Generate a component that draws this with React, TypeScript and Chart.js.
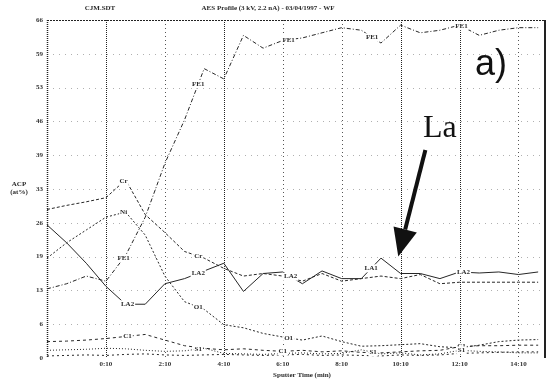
import { useEffect, useRef } from "react";
import { Chart, registerables } from "chart.js";

Chart.register(...registerables);

// Sputter cycles (three cycles per labelled time step)
const cycles = [0, 1, 2, 3, 4, 5, 6, 7, 8, 9, 10, 11, 12, 13, 14, 15, 16, 17, 18, 19, 20, 21, 22, 23, 24, 25];

// Tick labels
const timeTicks = ["", "0:10", "2:10", "4:10", "6:10", "8:10", "10:10", "12:10", "14:10"];
const acpTicks = ["0", "6", "13", "19", "26", "33", "39", "46", "53", "59", "66"];

// Atomic concentration profiles (at%)
const fe = [13.5, 14.5, 16, 15, 20, 27.5, 38, 46.5, 56.5, 54.5, 63, 60.5, 62, 62.5, 63.5, 64.5, 64, 61.5, 65, 63.5, 64, 65, 63, 64, 64.5, 64.5];
const cr = [29, 29.8, 30.5, 31.3, 34.8, 28, 24.5, 20.8, 19.5, 17.5, 16, 16.5, 16, 15, 16.5, 15, 15.5, 16, 15.5, 16.3, 14.5, 14.8, 14.8, 14.8, 14.8, 14.8];
const ni = [19.5, 22.5, 25, 27.5, 28.5, 24, 16, 11, 9.5, 6.5, 5.9, 4.8, 4.1, 3.5, 4.3, 3.2, 2.3, 2.4, 2.6, 2.8, 2.2, 2.0, 2.5, 3.2, 3.5, 3.6];
const la = [26, 22.5, 18.5, 14, 10.5, 10.5, 14.5, 15.5, 17, 18.5, 13, 16.5, 16.8, 14.5, 17, 15.5, 15.5, 19.5, 16.5, 16.5, 15.5, 16.8, 16.6, 16.8, 16.3, 16.8];
const carbon = [3.2, 3.3, 3.5, 3.8, 4.2, 4.6, 3.5, 2.4, 1.9, 1.6, 1.8, 1.5, 1.3, 1.5, 1.2, 1.4, 1.1, 1.0, 1.2, 1.4, 1.5, 2.2, 2.4, 2.4, 2.5, 2.5];
const sulfur = [1.5, 1.6, 1.7, 1.9, 1.8, 1.5, 1.3, 1.4, 1.9, 0.9, 0.8, 0.7, 0.9, 1.0, 0.8, 0.9, 1.6, 0.8, 1.0, 0.6, 0.8, 1.5, 1.3, 1.2, 1.0, 1.0];
const nitrogen = [0.4, 0.5, 0.6, 0.5, 0.7, 0.8, 0.6, 0.5, 0.6, 0.7, 0.6, 0.5, 0.6, 0.7, 0.5, 0.6, 0.5, 0.4, 0.6, 0.5, 0.6, 0.9, 1.0, 1.1, 1.2, 1.2];

const SERIF = "'Liberation Serif', 'DejaVu Serif', serif";
const SANS = "'Liberation Sans', Arial, sans-serif";
const INK = "#262626";

const series = [
  { name: "Fe", values: fe, dash: [4, 2, 1, 2] },
  { name: "Cr", values: cr, dash: [3, 2] },
  { name: "Ni/O", values: ni, dash: [2, 2] },
  { name: "La", values: la, dash: [] as number[] },
  { name: "C", values: carbon, dash: [3, 3] },
  { name: "S", values: sulfur, dash: [1, 2] },
  { name: "N", values: nitrogen, dash: [2, 3] },
];

// In-plot curve tags: series index, cycle position, text
const curveTags: [number, number, string][] = [
  [0, 3.9, "FE1"], [0, 7.7, "FE1"], [0, 12.3, "FE1"], [0, 16.55, "FE1"], [0, 21.1, "FE1"],
  [1, 3.9, "Cr"], [1, 7.7, "Cr"],
  [2, 3.9, "Ni"], [2, 7.7, "O1"], [2, 12.3, "O1"],
  [3, 4.1, "LA2"], [3, 7.7, "LA2"], [3, 12.4, "LA2"], [3, 16.5, "LA1"], [3, 21.2, "LA2"],
  [4, 4.1, "C1"], [4, 12.0, "C1"], [4, 21.1, "C1"],
  [5, 7.7, "S1"], [5, 16.6, "S1"], [5, 21.1, "S1"],
];

function valueAt(vals: number[], x: number) {
  const i = Math.max(0, Math.min(vals.length - 2, Math.floor(x)));
  const f = x - i;
  return vals[i] * (1 - f) + vals[i + 1] * f;
}

const framePlugin = {
  id: "frame",
  beforeDatasetsDraw(chart: any) {
    const { ctx, chartArea: a, scales } = chart;
    const xs = scales.x, ys = scales.y;
    ctx.save();
    // horizontal grid
    ctx.strokeStyle = "#b0b0b0";
    ctx.lineWidth = 1;
    ctx.setLineDash([1, 5]);
    for (let i = 1; i < acpTicks.length - 1; i++) {
      const y = Math.round(ys.getPixelForValue(i * 6.6)) + 0.5;
      ctx.beginPath(); ctx.moveTo(a.left, y); ctx.lineTo(a.right, y); ctx.stroke();
    }
    // vertical grid
    for (let i = 1; i < timeTicks.length; i++) {
      const x = Math.round(xs.getPixelForValue(i * 3)) + 0.5;
      const strong = i === 1 || i === 3 || i === 6 || i === 7;
      ctx.strokeStyle = strong ? "#222" : "#555";
      ctx.setLineDash(strong ? [1, 1] : [1, 3]);
      ctx.beginPath(); ctx.moveTo(x, a.top); ctx.lineTo(x, a.bottom); ctx.stroke();
    }
    // frame
    ctx.strokeStyle = "#222";
    ctx.setLineDash([1, 1]);
    ctx.lineWidth = 1.5;
    ctx.beginPath(); ctx.moveTo(a.left + 0.5, a.top); ctx.lineTo(a.left + 0.5, a.bottom); ctx.stroke();
    ctx.lineWidth = 1;
    ctx.setLineDash([2, 1]);
    ctx.beginPath(); ctx.moveTo(a.left, a.top + 0.5); ctx.lineTo(a.right, a.top + 0.5); ctx.stroke();
    ctx.setLineDash([]);
    ctx.lineWidth = 2;
    ctx.beginPath(); ctx.moveTo(a.right - 1, a.top); ctx.lineTo(a.right - 1, a.bottom); ctx.stroke();
    ctx.restore();
  },
  afterDatasetsDraw(chart: any) {
    const { ctx, scales } = chart;
    const xs = scales.x, ys = scales.y;
    ctx.save();
    // curve tags
    ctx.font = `bold 7px ${SERIF}`;
    ctx.textAlign = "center";
    ctx.textBaseline = "middle";
    for (const [si, cx, text] of curveTags) {
      const px = xs.getPixelForValue(cx);
      const py = ys.getPixelForValue(valueAt(series[si].values, cx));
      const w = ctx.measureText(text).width;
      ctx.fillStyle = "#fff";
      ctx.fillRect(px - w / 2 - 1, py - 4, w + 2, 8);
      ctx.fillStyle = "#2a2a2a";
      ctx.fillText(text, px, py);
    }
    // headers
    ctx.fillStyle = "#2a2a2a";
    ctx.font = `bold 7px ${SERIF}`;
    ctx.fillText("CJM.SDT", 100, 8);
    ctx.fillText("AES Profile (3 kV, 2.2 nA) - 03/04/1997 - WF", 268, 8);
    // axis titles
    ctx.fillText("ACP", 19, 184);
    ctx.fillText("(at%)", 19, 192);
    ctx.fillText("Sputter Time (min)", 302, 375);
    // panel tag and element pointer
    ctx.fillStyle = "#111";
    ctx.font = `36px ${SANS}`;
    ctx.fillText("a)", xs.getPixelForValue(22.6), ys.getPixelForValue(57.2));
    ctx.font = `32px ${SERIF}`;
    ctx.fillText("La", xs.getPixelForValue(20.0), ys.getPixelForValue(44.8));
    const x0 = xs.getPixelForValue(19.26), y0 = ys.getPixelForValue(40.6);
    const x1 = xs.getPixelForValue(17.88), y1 = ys.getPixelForValue(19.8);
    const ang = Math.atan2(y1 - y0, x1 - x0);
    const headLen = 28, headW = 12;
    const bx = x1 - headLen * Math.cos(ang), by = y1 - headLen * Math.sin(ang);
    ctx.strokeStyle = "#111";
    ctx.lineWidth = 4;
    ctx.beginPath(); ctx.moveTo(x0, y0); ctx.lineTo(bx, by); ctx.stroke();
    ctx.beginPath();
    ctx.moveTo(x1, y1);
    ctx.lineTo(bx + headW * Math.sin(ang), by - headW * Math.cos(ang));
    ctx.lineTo(bx - headW * Math.sin(ang), by + headW * Math.cos(ang));
    ctx.closePath();
    ctx.fill();
    ctx.restore();
  },
};

export default function App() {
  const ref = useRef<HTMLCanvasElement | null>(null);
  useEffect(() => {
    if (!ref.current) return;
    const chart = new Chart(ref.current, {
      type: "line",
      data: {
        datasets: series.map((s) => ({
          label: s.name,
          data: cycles.map((c, i) => ({ x: c, y: s.values[i] })),
          borderColor: INK,
          borderWidth: 1,
          borderDash: s.dash,
          pointRadius: 0,
          tension: 0,
          fill: false,
        })),
      },
      options: {
        responsive: false,
        animation: false,
        layout: { padding: { left: 0, top: 20, right: 2, bottom: 0 } },
        plugins: { legend: { display: false }, tooltip: { enabled: false } },
        scales: {
          x: {
            type: "linear",
            min: 0,
            max: 25.4,
            grid: { display: false, drawTicks: false },
            border: { display: false },
            ticks: {
              autoSkip: false,
              maxRotation: 0,
              padding: 2,
              color: "#333",
              font: { family: SERIF, size: 7, weight: "bold" },
              callback: (_v: any, i: number) => timeTicks[i],
            },
            afterBuildTicks: (s: any) => {
              s.ticks = timeTicks.map((_, i) => ({ value: i * 3 }));
            },
            afterFit: (s: any) => {
              s.height = 22;
            },
          },
          y: {
            type: "linear",
            min: 0,
            max: 66,
            grid: { display: false, drawTicks: false },
            border: { display: false },
            ticks: {
              autoSkip: false,
              padding: 4,
              color: "#333",
              font: { family: SERIF, size: 7, weight: "bold" },
              callback: (_v: any, i: number) => acpTicks[i],
            },
            afterBuildTicks: (s: any) => {
              s.ticks = acpTicks.map((_, i) => ({ value: i * 6.6 }));
            },
            afterFit: (s: any) => {
              s.width = 47;
            },
          },
        },
      },
      plugins: [framePlugin],
    } as any);
    return () => chart.destroy();
  }, []);
  return (
    <div style={{ position: "fixed", left: 0, top: 0, width: 548, height: 380, background: "#fff" }}>
      <canvas ref={ref} width={548} height={380} style={{ display: "block" }} />
    </div>
  );
}
